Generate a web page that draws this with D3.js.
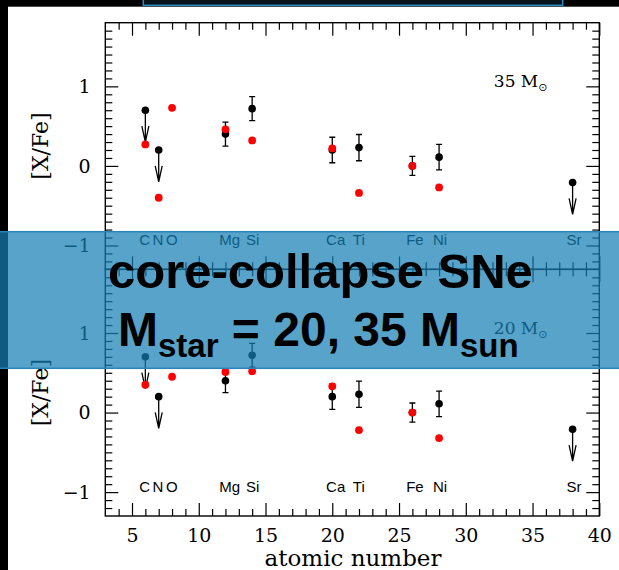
<!DOCTYPE html>
<html>
<head>
<meta charset="utf-8">
<script src="https://cdn.jsdelivr.net/npm/d3@7"></script>
<style>
  html, body { margin: 0; padding: 0; background: #fff; }
  svg { display: block; }
  .tick line { stroke: #000; stroke-width: 1.2; }
  .num { font-family: "DejaVu Serif", serif; font-size: 19px; fill: #000; }
  .elem { font-family: "Liberation Sans", Arial, sans-serif; font-size: 15px; fill: #000; }
</style>
</head>
<body>
<div id="chart"></div>
<script>
// element labels along the x axis
const elemNames = ["C", "N", "O", "Mg", "Si", "Ca", "Ti", "Fe", "Ni", "Sr"];
const elemZ = [6, 7, 8, 12, 14, 20, 22, 26, 28, 38];

// observed abundances (black), same in both panels
const obsZ = [6, 7, 12, 14, 20, 22, 26, 28, 38];
const obsValue = [0.70, 0.20, 0.40, 0.72, 0.20, 0.23, 0.00, 0.11, -0.21];
const obsError = [0, 0, 0.15, 0.15, 0.16, 0.165, 0.12, 0.16, 0];
const obsUpper = [true, true, false, false, false, false, false, false, true];

// model yields (red)
const model35Z = [6, 7, 8, 12, 14, 20, 22, 26, 28];
const model35 = [0.27, -0.40, 0.73, 0.46, 0.32, 0.22, -0.34, 0.00, -0.27];
const model20Z = [6, 8, 12, 14, 20, 22, 26, 28];
const model20 = [0.35, 0.45, 0.51, 0.52, 0.33, -0.22, 0.00, -0.32];

const panelMass = ["35", "20"];
const xTicks = [5, 10, 15, 20, 25, 30, 35, 40];
const yTicks = [-1, 0, 1];

const W = 619, H = 570;
const margin = { l: 105.3, r: 19.7, t: 22.7, b: 54 };
const panelH = (H - margin.t - margin.b) / 2;

const svg = d3.select("#chart").append("svg")
    .attr("width", W)
    .attr("height", H);

svg.append("rect").attr("width", W).attr("height", H).attr("fill", "#fff");

const x = d3.scaleLinear()
    .domain([3, 40])
    .range([margin.l, W - margin.r]);

const obs = obsZ.map((z, i) => ({ z: z, v: obsValue[i], e: obsError[i], up: obsUpper[i] }));
const models = [
    model35Z.map((z, i) => ({ z: z, v: model35[i] })),
    model20Z.map((z, i) => ({ z: z, v: model20[i] }))
];
const labels = elemNames.map((n, i) => ({ name: n, z: elemZ[i] }));

panelMass.forEach((mass, p) => {
    const top = margin.t + p * panelH;
    const y = d3.scaleLinear()
        .domain([-1.3, 1.8])
        .range([top + panelH, top]);

    const g = svg.append("g").attr("class", `panel panel_${mass}`);
    const minorX = d3.range(4, 40).filter(d => d % 5 !== 0);
    const minorY = d3.range(-12, 18).map(d => d / 10).filter(d => Math.abs(d * 10) % 10 !== 0);

    // ticks on all four sides, pointing inward
    const addX = (axis, pos, vals, size) => g.append("g")
        .attr("transform", `translate(0,${pos})`)
        .call(axis(x).tickValues(vals).tickSize(size).tickFormat(""))
        .call(s => s.select(".domain").remove());
    addX(d3.axisTop, top, minorX, -7);
    addX(d3.axisTop, top, xTicks, -13);
    addX(d3.axisBottom, top + panelH, minorX, -7);
    addX(d3.axisBottom, top + panelH, xTicks, -13);

    const addY = (axis, pos, vals, size) => g.append("g")
        .attr("transform", `translate(${pos},0)`)
        .call(axis(y).tickValues(vals).tickSize(size).tickFormat(""))
        .call(s => s.select(".domain").remove());
    addY(d3.axisLeft, margin.l, minorY, -7);
    addY(d3.axisRight, W - margin.r, minorY, -7);
    addY(d3.axisRight, W - margin.r, yTicks, -13);

    g.append("g")
        .attr("transform", `translate(${margin.l},0)`)
        .call(d3.axisLeft(y).tickValues(yTicks).tickSize(-13).tickPadding(14.6)
            .tickFormat(d => d < 0 ? "\u2212" + Math.abs(d) : d))
        .call(s => s.select(".domain").remove())
        .call(s => s.selectAll("text").attr("class", "num").attr("font-size", null).attr("font-family", null));

    // frame
    g.append("rect")
        .attr("x", margin.l).attr("y", top)
        .attr("width", W - margin.r - margin.l).attr("height", panelH)
        .attr("fill", "none").attr("stroke", "#000").attr("stroke-width", 1.4);

    // element names
    g.selectAll(".elem")
        .data(labels)
        .join("text")
        .attr("class", "elem")
        .attr("x", d => x(d.z - 0.5) + 0.5)
        .attr("y", y(-1))
        .text(d => d.name);

    // mass label
    const ml = g.append("text")
        .attr("class", "num")
        .attr("x", x(32.1))
        .attr("y", y(1.0) + 0.8)
        .style("font-size", "17px");
    ml.append("tspan").text(mass + " M");
    ml.append("tspan").attr("dy", 4).style("font-size", "11px")
        .style("font-family", "DejaVu Sans").text("\u2299");

    // y label
    g.append("text")
        .attr("class", "num")
        .attr("transform", `translate(48,${top + panelH / 2}) rotate(-90)`)
        .attr("text-anchor", "middle")
        .style("font-size", "22px")
        .text("[X/Fe]");

    // error bars
    const eb = obs.filter(d => d.e > 0);
    g.selectAll(".err")
        .data(eb)
        .join("path")
        .attr("class", "err")
        .attr("fill", "none").attr("stroke", "#000").attr("stroke-width", 1.3)
        .attr("d", d => {
            const cx = x(d.z), y1 = y(d.v + d.e), y2 = y(d.v - d.e);
            return `M${cx},${y1}V${y2}M${cx - 3},${y1}H${cx + 3}M${cx - 3},${y2}H${cx + 3}`;
        });

    // upper limit arrows
    g.selectAll(".arrow")
        .data(obs.filter(d => d.up))
        .join("path")
        .attr("class", "arrow")
        .attr("fill", "none").attr("stroke", "#000").attr("stroke-width", 1.3)
        .attr("d", d => {
            const cx = x(d.z), tip = y(d.v - 0.4);
            return `M${cx},${y(d.v)}V${tip}M${cx - 3.5},${tip - 16}L${cx},${tip}L${cx + 3.5},${tip - 16}`;
        });

    g.selectAll(".obs")
        .data(obs)
        .join("circle")
        .attr("class", "obs")
        .attr("cx", d => x(d.z)).attr("cy", d => y(d.v))
        .attr("r", 3.8).attr("fill", "#000");

    g.selectAll(".model")
        .data(models[p])
        .join("circle")
        .attr("class", "model")
        .attr("cx", d => x(d.z)).attr("cy", d => y(d.v))
        .attr("r", 3.9).attr("fill", "#ff0000");
});

// x axis labels
svg.append("g")
    .attr("transform", `translate(0,${H - margin.b})`)
    .call(d3.axisBottom(x).tickValues(xTicks).tickSize(0).tickPadding(12.5))
    .call(s => s.select(".domain").remove())
    .call(s => s.selectAll("text").attr("class", "num").attr("font-size", null).attr("font-family", null));

svg.append("text")
    .attr("class", "num")
    .attr("x", 353).attr("y", 566)
    .attr("text-anchor", "middle")
    .style("font-size", "23px")
    .text("atomic number");

// slide decorations: black edges, top box
svg.append("rect").attr("x", 0).attr("y", 0).attr("width", 8).attr("height", H).attr("fill", "#000");
svg.append("rect").attr("x", 0).attr("y", 0).attr("width", W).attr("height", 6.7).attr("fill", "#000");
svg.append("rect")
    .attr("x", 143.3).attr("y", -4).attr("width", 419.4).attr("height", 9.3)
    .attr("fill", "#07131b").attr("stroke", "#2a8ac4").attr("stroke-width", 1.5);

// banner
const banner = svg.append("g");
banner.append("rect")
    .attr("x", -2).attr("y", 231.7).attr("width", W + 4).attr("height", 136.6)
    .attr("fill", "rgba(20,126,179,0.715)")
    .attr("stroke", "#2a84bb").attr("stroke-width", 1.5);

banner.append("text")
    .attr("x", 108).attr("y", 288.3)
    .style("font-family", "'Liberation Sans', Arial, sans-serif")
    .style("font-weight", "bold").style("font-size", "49px")
    .text("core-collapse SNe");

const t2 = banner.append("text")
    .attr("x", 118).attr("y", 345.7)
    .style("font-family", "'Liberation Sans', Arial, sans-serif")
    .style("font-weight", "bold").style("font-size", "48px");
t2.append("tspan").text("M");
t2.append("tspan").attr("dy", 11).style("font-size", "33px").text("star");
t2.append("tspan").attr("dy", -11).text(" = 20, 35 M");
t2.append("tspan").attr("dy", 11).style("font-size", "33px").text("sun");
</script>
</body>
</html>
